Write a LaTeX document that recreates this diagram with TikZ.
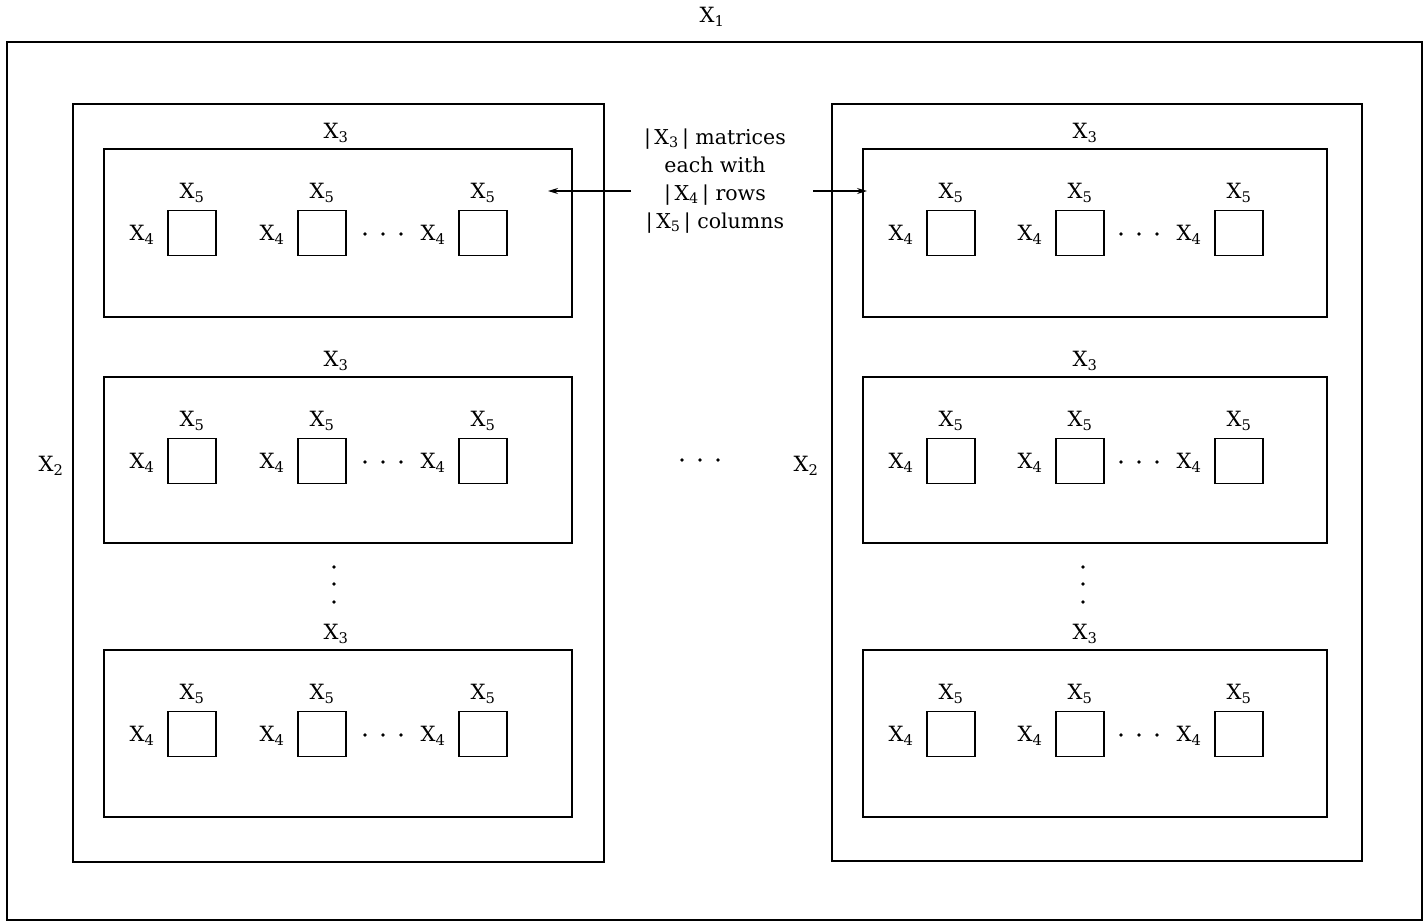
\documentclass[tikz,border=0pt]{standalone}
\usepackage{fontspec}
\setmainfont{DejaVu Serif}
\usetikzlibrary{arrows.meta}
\begin{document}
\begin{tikzpicture}[x=1pt,y=-1pt,
  frame/.style={draw, line width=1.6pt, inner sep=0pt, outer sep=0pt, anchor=north west},
  cell/.style={draw, line width=1.7pt, minimum width=48pt, minimum height=45pt, inner sep=0pt, outer sep=0pt},
  lab/.style={font=\fontsize{21}{24}\selectfont, inner sep=0pt},
  note/.style={font=\fontsize{20.5}{28}\selectfont, align=center, inner sep=0pt},
  dot/.style={circle, fill, inner sep=0pt, minimum size=3.8pt},
  ptr/.style={line width=1.1pt, -{Stealth[length=10pt,width=6pt]}}]
\useasboundingbox (0,0) rectangle (1425,922);
% outer box X1
\node[frame, minimum width=1415pt, minimum height=878pt] (X1) at (7,42) {};
\node[lab] (X1t) at (712,17) {X\textsubscript{1}};
% panels X2
\node[frame, minimum width=531pt, minimum height=758pt] (PL) at (73,104) {};
\node[frame, minimum width=530pt, minimum height=757pt] (PR) at (832,104) {};
\node[lab] (PLt) at (51,466) {X\textsubscript{2}};
\node[lab] (PRt) at (806,466) {X\textsubscript{2}};
% dots between panels
\node[dot] (m1) at (682,460) {};
\node[dot] (m2) at (700,460) {};
\node[dot] (m3) at (718,460) {};
% inner boxes
\foreach \side/\ix/\iw/\cA/\cB/\cC/\xt/\dx in {L/104/468/192/322/483/336/43, R/863/464/951/1080/1239/1085/41} {
  \foreach \r/\top/\h in {1/149/168, 2/377/166, 3/650/167} {
    \node[frame, minimum width=\iw pt, minimum height=\h pt] (\side\r) at (\ix,\top) {};
    \node[lab] (\side\r t) at (\xt,\top-16) {X\textsubscript{3}};
    \foreach \c/\cx in {a/\cA, b/\cB, c/\cC} {
      \node[cell] (\side\r\c) at (\cx,\top+84) {};
      \node[lab] (\side\r\c5) at (\cx,\top+44) {X\textsubscript{5}};
      \node[lab] (\side\r\c4) at (\cx-50,\top+86) {X\textsubscript{4}};
    }
    \node[dot] (\side\r d1) at (\cB+\dx,\top+85) {};
    \node[dot] (\side\r d2) at (\cB+\dx+18,\top+85) {};
    \node[dot] (\side\r d3) at (\cB+\dx+36,\top+85) {};
  }
  \node[dot] (\side v1) at (\xt-2,567) {};
  \node[dot] (\side v2) at (\xt-2,584) {};
  \node[dot] (\side v3) at (\xt-2,602) {};
}
% note
\node[note] (note) at (715,181) {|\,X\textsubscript{3}\,| matrices\\each with\\|\,X\textsubscript{4}\,| rows\\|\,X\textsubscript{5}\,| columns};
\coordinate (aLs) at (631,191);
\coordinate (aLe) at (548,191);
\coordinate (aRs) at (813,191);
\coordinate (aRe) at (867,191);
\draw[ptr] (aLs) -- (aLe);
\draw[ptr] (aRs) -- (aRe);
\end{tikzpicture}
\end{document}
